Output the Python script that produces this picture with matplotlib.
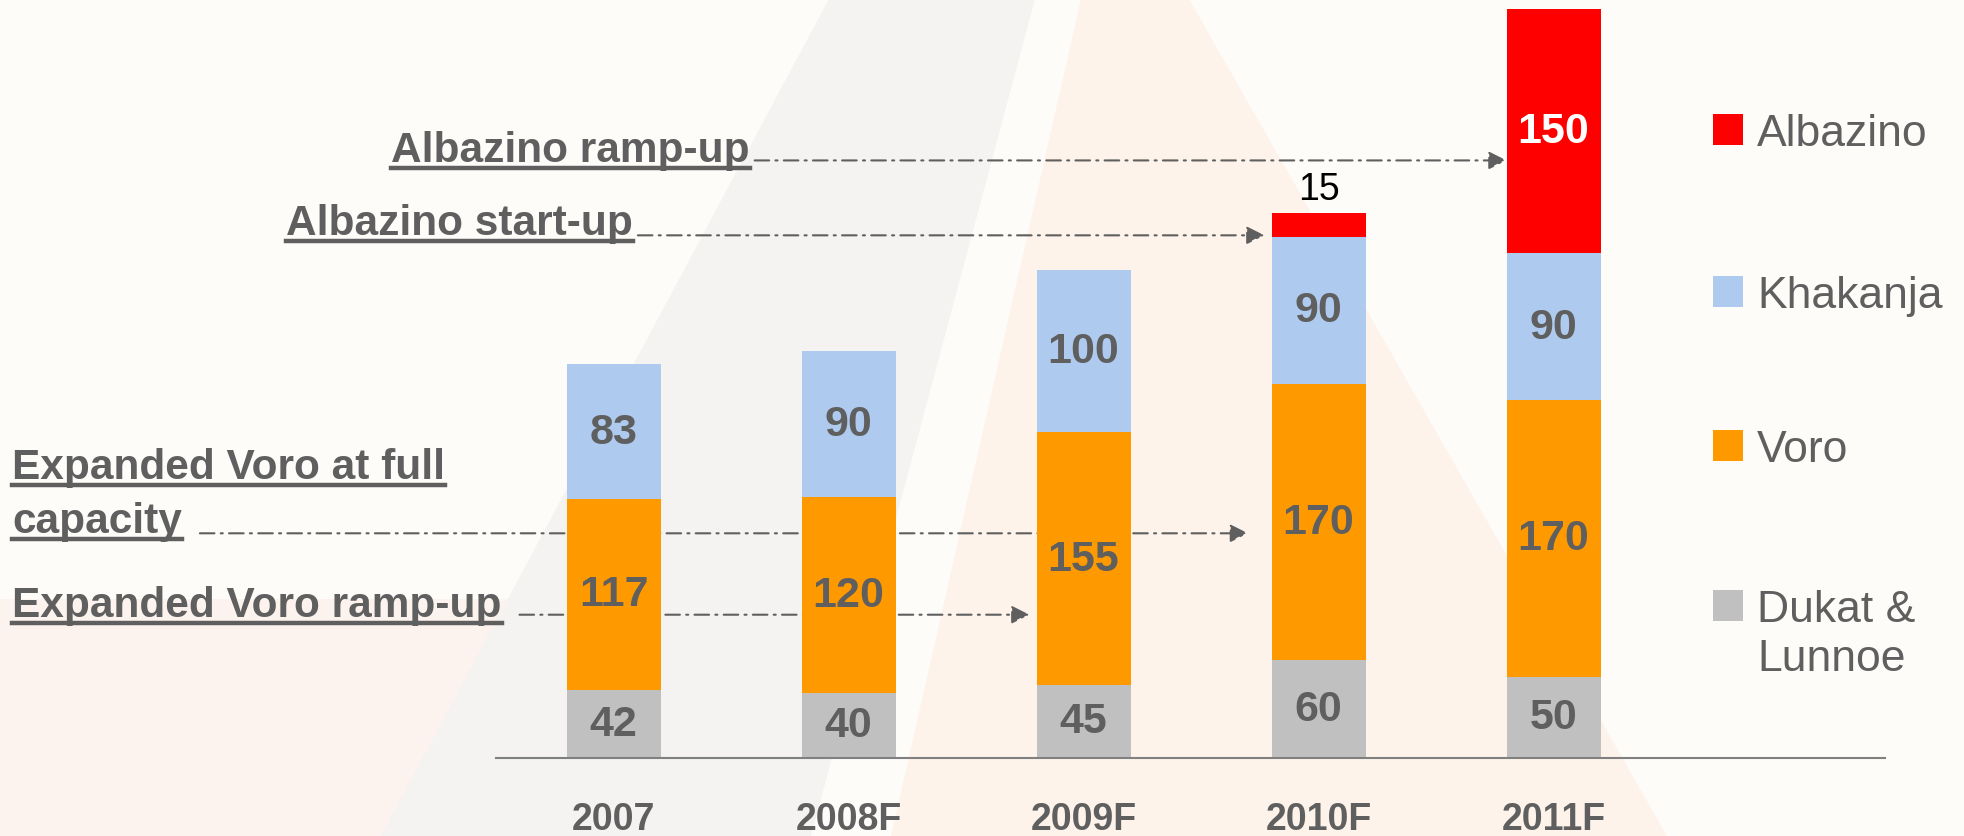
import matplotlib
matplotlib.use('Agg')
import matplotlib.pyplot as plt
from matplotlib import font_manager
from matplotlib.patches import Polygon, Rectangle
from matplotlib.lines import Line2D

# data
years = ['2007', '2008F', '2009F', '2010F', '2011F']
dukat = [42, 40, 45, 60, 50]
voro = [117, 120, 155, 170, 170]
khakanja = [83, 90, 100, 90, 90]
albazino = [0, 0, 0, 15, 150]

series_names = ['Dukat &\nLunnoe', 'Voro', 'Khakanja', 'Albazino']
series_colors = ['#c0c0c0', '#ff9900', '#aecbef', '#ff0000']

notes = ['Albazino ramp-up', 'Albazino start-up',
         'Expanded Voro at full\ncapacity', 'Expanded Voro ramp-up']
note_bar = [4, 3, 3, 2]          # bar the arrow points to
note_level = [367, 321, 138, 88]  # height of the arrow, chart units

GRAY = '#5f5f5f'
W, H = 1964, 837


def pick(fams):
    for f in fams:
        try:
            font_manager.findfont(font_manager.FontProperties(family=f),
                                  fallback_to_default=False)
            return f
        except ValueError:
            pass
    return 'DejaVu Sans'


sans = pick(['Liberation Sans', 'Arial', 'DejaVu Sans'])
narrow = pick(['Liberation Sans Narrow', 'Arial Narrow'])
if narrow == 'DejaVu Sans':
    narrow = sans
    num_size, tick_size = 31, 27
else:
    num_size, tick_size = 34, 30


def fx(x):
    return x / W


def fy(y):
    return 1 - y / H


fig = plt.figure(figsize=(W / 100, H / 100), dpi=100, facecolor='#fdfcf9')

# faint logo watermark behind the chart
watermark = [
    ([(0, 600), (0, 837), (760, 837), (520, 600)], '#fcf2ee'),
    ([(829, 0), (1035, 0), (811, 837), (381, 837)], '#f4f3f1'),
    ([(1081, 0), (1189, 0), (1667, 837), (891, 837)], '#fdf3ea'),
]
for pts, col in watermark:
    fig.add_artist(Polygon([(fx(a), fy(b)) for a, b in pts], closed=True,
                           transform=fig.transFigure, facecolor=col,
                           edgecolor='none', zorder=-10))

ax = fig.add_axes([fx(496), 78 / H, (1885 - 496) / W, (759 - 10) / H])
ax.set_facecolor('none')

x = list(range(len(years)))
bottom = [0] * len(years)
for vals, col in zip([dukat, voro, khakanja, albazino], series_colors):
    ax.bar(x, vals, 0.4, bottom=bottom, color=col, zorder=2)
    for i, v in enumerate(vals):
        if v == 0:
            continue
        if v < 30:
            ax.annotate(str(v), (i, bottom[i] + v), xytext=(0, 10),
                        textcoords='offset points', ha='center', va='baseline',
                        fontsize=27, color='black', family=sans, zorder=4)
        else:
            tc = 'white' if col == '#ff0000' else GRAY
            ax.text(i, bottom[i] + v / 2, str(v), ha='center', va='center',
                    fontsize=num_size, fontweight='bold', color=tc,
                    family=narrow, zorder=4)
    bottom = [b + v for b, v in zip(bottom, vals)]

ax.set_xlim(-0.5, 5.41)
ax.set_ylim(0, 460)
for s in ['left', 'right', 'top']:
    ax.spines[s].set_visible(False)
ax.spines['bottom'].set_color('#808080')
ax.spines['bottom'].set_linewidth(1.5)
ax.set_yticks([])
ax.set_xticks(x, years)
ax.tick_params(axis='x', length=0, pad=31, labelsize=tick_size, labelcolor=GRAY)
for lab in ax.get_xticklabels():
    lab.set_fontweight('bold')
    lab.set_family(narrow)

# legend drawn by hand, top entry first
leg_y = [606, 446, 292, 130]
for name, col, cy in zip(series_names, series_colors, leg_y):
    fig.add_artist(Rectangle((fx(1713), fy(cy + 16)), 30 / W, 31 / H,
                             transform=fig.transFigure, facecolor=col,
                             edgecolor='none'))
    for k, line in enumerate(name.split('\n')):
        fig.text(fx(1757), fy(cy + 16 + 49 * k), line, ha='left', va='baseline',
                 fontsize=32, color=GRAY, family=sans)

# notes with underline and dash-dot arrows
fig.canvas.draw()
rend = fig.canvas.get_renderer()
note_pos = [(391, 162), (286, 235), (12, 479), (12, 617)]
note_gap = [5, 5, 18, 18]
tip_gap = [0.0, 0.03, 0.1, 0.03]
for txt, (x0, yb), bar, lvl, g, tg in zip(notes, note_pos, note_bar, note_level,
                                           note_gap, tip_gap):
    for k, line in enumerate(txt.split('\n')):
        ybl = yb + 54 * k
        t = fig.text(fx(x0), fy(ybl), line, ha='left', va='baseline',
                     fontsize=30.5, fontweight='bold', color=GRAY, family=sans)
        bb = t.get_window_extent(rend)
        fig.add_artist(Line2D([bb.x0 / W, bb.x1 / W], [fy(ybl + 7)] * 2,
                              transform=fig.transFigure, color=GRAY, lw=3.2))
    ay = ax.transData.transform((0, lvl))[1]
    ax.annotate('', xy=(bar - 0.2 - tg, lvl), xycoords='data',
                xytext=(bb.x1 + g, ay), textcoords='figure pixels',
                arrowprops=dict(arrowstyle='-|>', color=GRAY, lw=1.5,
                                linestyle=(0, (7, 3, 1, 3)), mutation_scale=27,
                                shrinkA=0, shrinkB=0),
                zorder=1, annotation_clip=False)

fig.savefig('out.png', dpi=100, facecolor=fig.get_facecolor())
